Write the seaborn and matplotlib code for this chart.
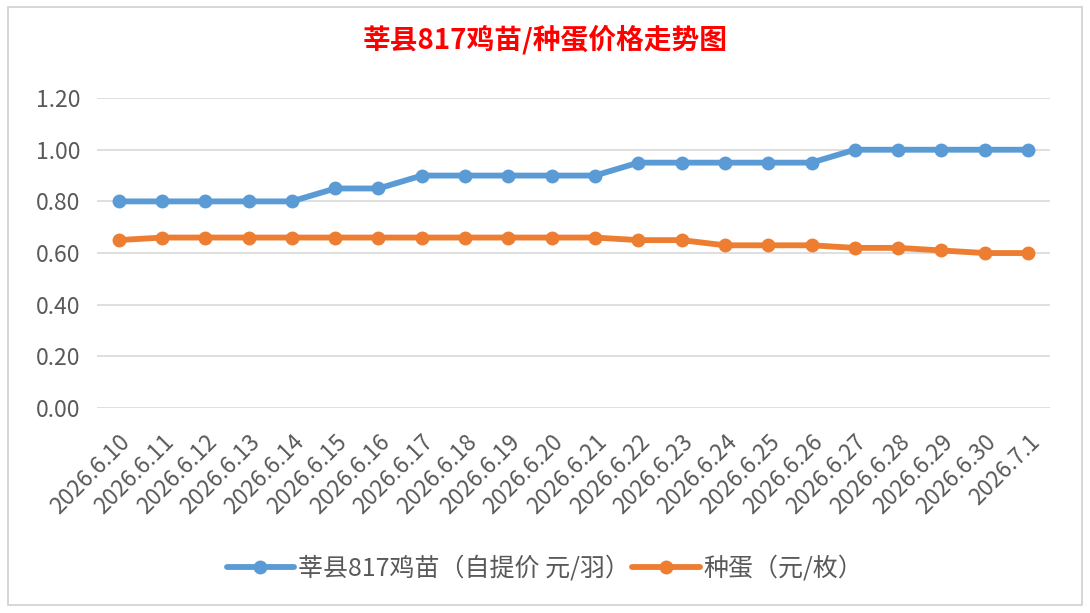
import matplotlib
matplotlib.use("Agg")
import matplotlib.pyplot as plt
import seaborn as sns
import pandas as pd
from matplotlib.patches import Rectangle

# data
dates = ["2026.6.10", "2026.6.11", "2026.6.12", "2026.6.13", "2026.6.14", "2026.6.15",
         "2026.6.16", "2026.6.17", "2026.6.18", "2026.6.19", "2026.6.20", "2026.6.21",
         "2026.6.22", "2026.6.23", "2026.6.24", "2026.6.25", "2026.6.26", "2026.6.27",
         "2026.6.28", "2026.6.29", "2026.6.30", "2026.7.1"]
chick_price = [0.80, 0.80, 0.80, 0.80, 0.80, 0.85, 0.85, 0.90, 0.90, 0.90, 0.90, 0.90,
               0.95, 0.95, 0.95, 0.95, 0.95, 1.00, 1.00, 1.00, 1.00, 1.00]
egg_price = [0.65, 0.66, 0.66, 0.66, 0.66, 0.66, 0.66, 0.66, 0.66, 0.66, 0.66, 0.66,
             0.65, 0.65, 0.63, 0.63, 0.63, 0.62, 0.62, 0.61, 0.60, 0.60]
series_names = ["莘县817鸡苗（自提价 元/羽）", "种蛋（元/枚）"]
colors = ["#5b9bd5", "#ed7d31"]

sns.set_theme(style="white")
plt.rcParams['font.family'] = ['Noto Sans CJK SC', 'DejaVu Sans']

df = pd.DataFrame({
    "idx": list(range(len(dates))) * 2,
    "price": chick_price + egg_price,
    "series": [series_names[0]] * len(dates) + [series_names[1]] * len(dates),
})

fig = plt.figure(figsize=(10.9, 6.13), dpi=100)
fig.patches.append(Rectangle((0.007, 0.013), 0.986, 0.975, transform=fig.transFigure,
                             fill=False, edgecolor="#d0d0d0", linewidth=1.2))
ax = fig.add_axes([0.089, 0.3344, 0.874, 0.5056])

sns.lineplot(data=df, x="idx", y="price", hue="series", palette=colors,
             marker="o", markersize=10, markeredgewidth=0, linewidth=4.2,
             ax=ax, legend=True)

yticks = [0, 0.2, 0.4, 0.6, 0.8, 1.0, 1.2]
ax.set_xlim(-0.5, len(dates) - 0.5)
ax.set_ylim(0, 1.2)
ax.set_yticks(yticks)
ax.set_yticklabels([f"{v:.2f}" for v in yticks])
ax.set_xticks(range(len(dates)))
ax.set_xticklabels(dates, rotation=45, ha="right", rotation_mode="anchor")
ax.tick_params(axis="both", length=0, labelsize=16.5, labelcolor="#595959")
ax.tick_params(axis="y", pad=12)
ax.tick_params(axis="x", pad=16)
ax.yaxis.grid(True, color="#d9d9d9", linewidth=1.2)
ax.set_axisbelow(True)
for s in ax.spines.values():
    s.set_visible(False)
ax.set_xlabel("")
ax.set_ylabel("")

fig.text(0.5, 0.935, "莘县817鸡苗/种蛋价格走势图", ha="center", va="center",
         color="red", fontsize=20, fontweight="bold")

handles, labels = ax.get_legend_handles_labels()
leg = ax.legend(handles, labels, loc="center", bbox_to_anchor=(0.5, 0.073),
                bbox_transform=fig.transFigure, ncol=2, frameon=False, fontsize=18,
                labelcolor="#595959", handlelength=2.7, columnspacing=0.1, handletextpad=0.15)
for h in leg.get_lines():
    h.set_markersize(10)
    h.set_markeredgewidth(0)
    h.set_linewidth(4.2)

fig.savefig("out.png", dpi=100, facecolor="white")
